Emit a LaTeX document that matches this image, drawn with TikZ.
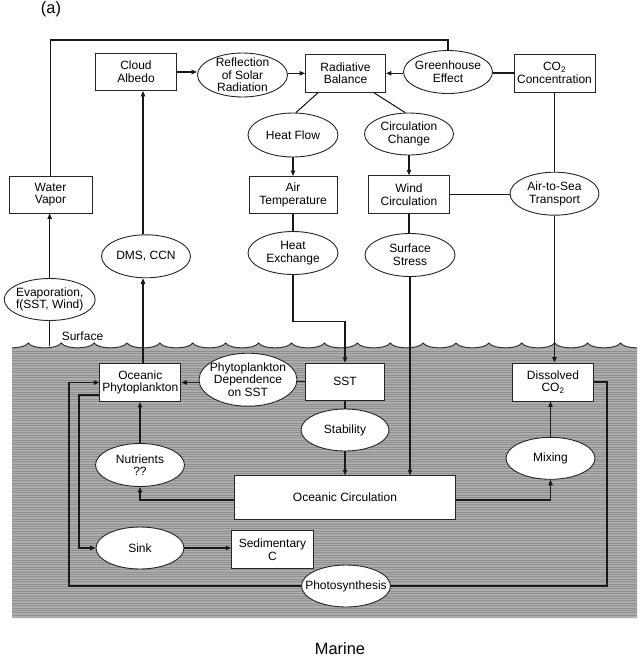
\documentclass[tikz,border=0pt]{standalone}
\usepackage{fontspec}
\setmainfont{Liberation Sans}
\usetikzlibrary{arrows.meta,shapes.geometric}
\newcommand\nfont{\fontsize{12}{12.6}\selectfont}
\newcommand\bigfont{\fontsize{16.4}{18}\selectfont}
\begin{document}
\begin{tikzpicture}[x=1pt,y=-1pt,
  box/.style={draw=black!85, line width=0.9pt, fill=white, inner sep=0pt, align=center, font=\nfont},
  ell/.style={ellipse, draw=black!85, line width=0.9pt, fill=white, inner sep=0pt},
  lbl/.style={align=center, inner sep=0pt, font=\nfont},
  conn/.style={line width=1.05pt, draw=black!90},
  arr/.style={conn, -{Triangle[length=5.5pt,width=4.4pt]}},
  wave/.style={line width=1pt, draw=black!80}
]
\useasboundingbox (0,0) rectangle (642,657);

% ---------- ocean ----------
\begin{scope}
  \clip (12,330) rectangle (637,618);
  \fill[black!32] (-4.6,343) foreach \k in {0,...,20} { .. controls +(4,6.5) and +(-4,6.5) .. ++(32.9,0) } -- (700,618) -- (-4.6,618) -- cycle;
  \foreach \yy in {351,353.4,...,616} \draw[black!44, line width=0.55pt] (12,\yy) -- (637,\yy);
  \draw[wave] (-4.6,343) foreach \k in {0,...,20} { .. controls +(4,6.5) and +(-4,6.5) .. ++(32.9,0) };
\end{scope}

% ---------- helper coordinates ----------
\coordinate (top) at (0,40);
\coordinate (surf) at (0,346);
\coordinate (vx) at (143,0);
\coordinate (lx1) at (69,0);
\coordinate (lx2) at (79,0);
\coordinate (rx) at (607,0);

% ---------- atmosphere ----------
\node[box, minimum width=83, minimum height=37] (wv) at (50.5,194.5) {Water\\Vapor};
\node[box, minimum width=81, minimum height=37] (ca) at (136,72) {Cloud\\Albedo};
\node[ell, minimum width=90, minimum height=44, label={[lbl]center:{Reflection\\of Solar\\Radiation}}] (rsr) at (242.5,75) {};
\node[box, minimum width=80, minimum height=38] (rb) at (345.5,73.3) {Radiative\\Balance};
\node[ell, minimum width=89, minimum height=43, label={[lbl]center:{Greenhouse\\Effect}}] (ge) at (448,72) {};
\node[box, minimum width=81, minimum height=38] (co2c) at (554.5,73) {CO\textsubscript{2}\\Concentration};
\node[ell, minimum width=90, minimum height=44, label={[lbl]center:{Heat Flow}}] (hf) at (293,135) {};
\node[ell, minimum width=89, minimum height=42, label={[lbl]center:{Circulation\\Change}}] (cc) at (409,134) {};
\node[box, minimum width=88, minimum height=37] (at) at (293,195) {Air\\Temperature};
\node[box, minimum width=81, minimum height=37.5] (wc) at (409,194.5) {Wind\\Circulation};
\node[ell, minimum width=89, minimum height=43, label={[lbl]center:{Air-to-Sea\\Transport}}] (ats) at (554.5,193.7) {};
\node[ell, minimum width=90, minimum height=43, label={[lbl]center:{Heat\\Exchange}}] (he) at (293,253) {};
\node[ell, minimum width=90, minimum height=43, label={[lbl]center:{Surface\\Stress}}] (ss) at (410,255) {};
\node[ell, minimum width=91, minimum height=42, label={[lbl]center:{Evaporation,\\f(SST, Wind)}}] (ev) at (49.7,299.5) {};
\node[ell, minimum width=89, minimum height=43, label={[lbl]center:{DMS, CCN}}] (dms) at (146,256.3) {};
\node[lbl, anchor=base] (surfl) at (82.5,340.5) {Surface};

% ---------- ocean nodes ----------
\node[box, minimum width=81, minimum height=38] (ocp) at (140.3,382.5) {Oceanic\\Phytoplankton};
\node[ell, minimum width=98, minimum height=53, label={[lbl]center:{Phytoplankton\\Dependence\\on SST}}] (pd) at (248,379.7) {};
\node[box, minimum width=79, minimum height=37] (sst) at (345,381.7) {SST};
\node[box, minimum width=81, minimum height=38] (dco2) at (553,382) {Dissolved\\CO\textsubscript{2}};
\node[ell, minimum width=88, minimum height=42, label={[lbl]center:{Stability}}] (st) at (345,430) {};
\node[ell, minimum width=89, minimum height=43, label={[lbl]center:{Nutrients\\??}}] (nu) at (140,465) {};
\node[ell, minimum width=89, minimum height=42, label={[lbl]center:{Mixing}}] (mx) at (550.5,458.3) {};
\node[box, minimum width=221.4, minimum height=43.6] (oc) at (345,497.5) {Oceanic Circulation};
\node[ell, minimum width=88, minimum height=42, label={[lbl]center:{Sink}}] (sk) at (140,548) {};
\node[box, minimum width=81.6, minimum height=37.6] (sed) at (272.5,549.5) {Sedimentary\\C};
\node[ell, minimum width=89, minimum height=42, label={[lbl]center:{Photosynthesis}}] (ph) at (346,586) {};

% ---------- titles ----------
\node[font=\bigfont, anchor=base, inner sep=0pt] (lab) at (51,13) {(a)};
\node[font=\bigfont, anchor=base, inner sep=0pt] (marine) at (340,654.5) {Marine};

% ---------- connectors (atmosphere) ----------
\draw[arr] (ca.east) -- (ca.east -| rsr.west);
\draw[arr] (rsr.east |- rb.west) -- (rb.west);
\draw[arr] (ge.west |- rb.east) -- (rb.east);
\draw[conn] (co2c.west) -- (co2c.west -| ge.east);
\draw[conn] (ge.north) |- (top -| wv.north) -- (wv.north);
\draw[conn] ([xshift=13pt]rb.south west) -- ([xshift=3pt]hf.north);
\draw[conn] ([xshift=-12pt]rb.south east) -- (cc.100);
\draw[arr] (hf.south) -- (hf.south |- at.north);
\draw[arr] (cc.south) -- (cc.south |- wc.north);
\draw[conn] (at.south) -- (at.south |- he.north);
\draw[arr] (he.south) |- ([yshift=41pt]sst.north) -- (sst.north);
\draw[conn] (wc.south) -- (wc.south |- ss.north);
\draw[arr] (ss.south) -- (ss.south |- oc.north);
\draw[conn] (wc.east) -- (wc.east -| ats.west);
\draw[conn] (co2c.south) -- (co2c.south |- ats.north);
\draw[arr] (ats.south) -- (ats.south |- dco2.north);
\draw[arr] (ev.north) -- (ev.north |- wv.south);
\draw[conn] (ev.south) -- (ev.south |- surf);
\draw[arr] (ocp.north -| vx) -- (dms.south -| vx);
\draw[arr] (dms.north -| vx) -- (ca.south -| vx);

% ---------- connectors (ocean) ----------
\draw[arr] (pd.west |- ocp.east) -- (ocp.east);
\draw[conn] (sst.west) -- (sst.west -| pd.east);
\draw[conn] (sst.south) -- (sst.south |- st.north);
\draw[arr] (st.south) -- (st.south |- oc.north);
\draw[arr] (nu.north) -- (nu.north |- ocp.south);
\draw[arr] ([yshift=-2.5pt]oc.west) -| (nu.south);
\draw[arr] ([yshift=-2.5pt]oc.east) -| (mx.south);
\draw[arr] (mx.north) -- (mx.north |- dco2.south);
\draw[arr] (sk.east) -- (sk.east -| sed.west);
\draw[arr] ([yshift=-12.5pt]ocp.west) -| (lx2 |- sk.west) -- (sk.west);
\draw[conn] (dco2.east) -| (rx |- ph.east) -- (ph.east);
\draw[arr] (ph.west) -- (lx1 |- ph.west) |- (ocp.west);
\end{tikzpicture}
\end{document}
